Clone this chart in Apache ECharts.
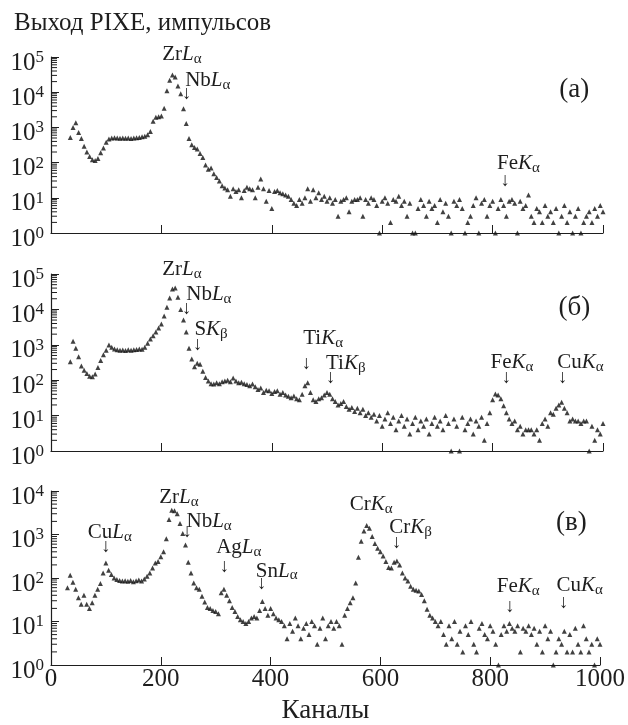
<!DOCTYPE html>
<html>
<head>
<meta charset="utf-8">
<script src="https://cdn.jsdelivr.net/npm/echarts@6/dist/echarts.min.js"></script>
<style>
html, body { margin: 0; padding: 0; background: #fff; }
#main { width: 628px; height: 725px; }
</style>
</head>
<body>
<div id="main"></div>
<script>
// channel numbers shared by all three spectra
var channels = [
  30, 35, 40, 45, 50, 55, 60, 65, 70, 75,
  80, 85, 90, 95, 100, 105, 110, 115, 120, 125,
  130, 135, 140, 145, 150, 155, 160, 165, 170, 175,
  180, 185, 190, 195, 200, 205, 210, 215, 220, 225,
  230, 235, 240, 245, 250, 255, 260, 265, 270, 275,
  280, 285, 290, 295, 300, 305, 310, 315, 320, 325,
  330, 335, 340, 345, 350, 355, 360, 365, 370, 375,
  380, 385, 390, 395, 400, 405, 410, 415, 420, 425,
  430, 435, 440, 445, 450, 455, 460, 465, 470, 475,
  480, 485, 490, 495, 500, 505, 510, 515, 520, 525,
  530, 535, 540, 545, 550, 555, 560, 565, 570, 575,
  580, 585, 590, 595, 600, 605, 610, 615, 620, 625,
  630, 635, 640, 645, 650, 655, 660, 665, 670, 675,
  680, 685, 690, 695, 700, 705, 710, 715, 720, 725,
  730, 735, 740, 745, 750, 755, 760, 765, 770, 775,
  780, 785, 790, 795, 800, 805, 810, 815, 820, 825,
  830, 835, 840, 845, 850, 855, 860, 865, 870, 875,
  880, 885, 890, 895, 900, 905, 910, 915, 920, 925,
  930, 935, 940, 945, 950, 955, 960, 965, 970, 975,
  980, 985, 990, 995, 1000
];

// (а)
var countsA = [
  null, 520, 1000, 1350, 720, 480, 290, 200, 150, 120,
  115, 130, 190, 260, 380, 470, 500, 510, 500, 490,
  500, 490, 500, 480, 500, 510, 520, 540, 560, 620,
  760, 1500, 1950, 2000, 2100, 3500, 11000, 22000, 31000, 27000,
  15000, 9000, 3400, 1300, 480, 320, 270, 245, 180, 140,
  85, 65, 70, 48, 38, 30, 22, 19, 17, 11,
  18, 15, 17, 10, 16, 20, 18, 17, 10, 20,
  34, 18, 8, 16, 5, 15, 16, 14, 13, 12,
  11, 9, 7, 6, 9, 7, 10, 18, 8, 17,
  10, 14, 9, 11, 8, 10, 7, 9, 3, 8,
  9, 10, 4, 8, 9, 9, 10, 3, 9, 7,
  10, 9, 6, 1, 8, 10, 7, 2, 9, 8,
  11, 6, 8, 3, 7, 1, 1, 5, 9, 6,
  3, 8, 5, 6, 2, 9, 4, 7, 3, 1,
  8, 6, 9, 5, 1, 2, 3, 6, 10, 1,
  7, 9, 3, 6, 8, 1, 5, 9, 6, 3,
  8, 9, 7, 1, 8, 5, 6, 12, 3, 2,
  5, 4, 2, 6, 3, 4, 2, 5, 1, 3,
  6, 2, 4, 1, 3, 5, 1, 2, 3, 4,
  2, 5, 3, 6, 4
];

// (б)
var countsB = [
  null, 330, 1250, 800, 460, 250, 190, 155, 130, 125,
  150, 230, 360, 520, 700, 980, 850, 760, 720, 700,
  710, 690, 720, 700, 730, 740, 760, 750, 850, 1100,
  1450, 1800, 2300, 3000, 3900, 6500, 11500, 21000, 38000, 40000,
  22000, 10000, 5000, 2300, 800, 400, 240, 300, 280, 180,
  120, 95, 80, 78, 85, 80, 90, 95, 100, 90,
  115, 95, 85, 88, 80, 75, 70, 78, 65, 55,
  60, 45, 52, 50, 42, 48, 50, 40, 45, 38,
  35, 32, 36, 30, 28, 40, 70, 85, 45, 28,
  25, 30, 32, 38, 45, 40, 30, 25, 20, 22,
  25, 18, 15, 17, 13, 16, 12, 15, 10, 12,
  9, 11, 7, 10, 5, 8, 12, 6, 9, 4,
  7, 10, 5, 8, 3, 6, 9, 4, 7, 5,
  8, 3, 6, 9, 5, 7, 4, 10, 6, 1,
  8, 5, 1, 9, 4, 6, 8, 3, 7, 5,
  9, 2, 6, 12, 28, 41, 38, 30, 19, 12,
  8, 6, 7, 4, 5, 3, 4, 4, 4, 3,
  4, 2, 6, 8, 5, 12, 11, 16, 20, 24,
  16, 12, 7, 8, 7, 7, 6, 7, 7, 1,
  5, 2, 4, 3, 6
];

// (в)
var countsC = [
  60, 115, 80, 55, 35, 25, 40, 25, 20, 27,
  40, 55, 75, 130, 220, 150, 120, 100, 92, 88,
  85, 87, 84, 88, 82, 86, 90, 85, 95, 110,
  130, 170, 220, 240, 310, 400, 800, 2200, 3600, 3500,
  3000, 1800, 1050, 570, 230, 130, 77, 60, 55, 38,
  28, 21, 20, 18, 17, 15, 46, 55, 40, 30,
  21, 17, 13, 11, 10, 9, 10, 12, 13, 12,
  18, 29, 20, 14, 20, 15, 12, 11, 10, 8,
  4, 9, 6, 12, 8, 4, 7, 9, 5, 10,
  8, 3, 7, 12, 4, 8, 10, 7, 10, 8,
  3, 14, 20, 27, 35, 77, 300, 700, 1200, 1620,
  1400, 900, 620, 480, 400, 320, 240, 175, 170, 230,
  245, 200, 130, 100, 85, 65, 55, 52, 50, 42,
  30, 19, 14, 12, 10, 8, 10, 5, 3, 8,
  4, 10, 3, 6, 2, 8, 5, 10, 3, 2,
  7, 9, 5, 4, 8, 6, 3, 1, 5, 8,
  6, 9, 7, 6, 8, 2, 7, 6, 8, 5,
  7, 3, 6, 2, 8, 4, 6, 1, 2, 4,
  3, 6, 2, 5, 2, 7, 3, 2, 8, 4,
  2, 3, 1, 4, 3
];

var yMaxA = 1e5, yMaxB = 1e5, yMaxC = 1e4;
var minorMultiples = [2, 3, 4, 5, 6, 7, 8, 9];

// line labels: text centre (ch, lg) and optional arrow centre (ach, alg), lg = log10(counts)
var notesA = [
  { t: ['Zr', 'L', 'α'], ch: 237, lg: 5.06 },
  { t: ['Nb', 'L', 'α'], ch: 284, lg: 4.34, ach: 246, alg: 3.95 },
  { t: ['Fe', 'K', 'α'], ch: 847, lg: 1.97, ach: 823, alg: 1.47 }
];
var notesB = [
  { t: ['Zr', 'L', 'α'], ch: 237, lg: 5.13 },
  { t: ['Nb', 'L', 'α'], ch: 286, lg: 4.43, ach: 246, alg: 4.01 },
  { t: ['S', 'K', 'β'], ch: 290, lg: 3.42, ach: 266, alg: 2.98 },
  { t: ['Ti', 'K', 'α'], ch: 493, lg: 3.17, ach: 463, alg: 2.47 },
  { t: ['Ti', 'K', 'β'], ch: 534, lg: 2.46, ach: 507, alg: 2.05 },
  { t: ['Fe', 'K', 'α'], ch: 835, lg: 2.49, ach: 825, alg: 2.05 },
  { t: ['Cu', 'K', 'α'], ch: 959, lg: 2.49, ach: 927, alg: 2.05 }
];
var notesC = [
  { t: ['Cu', 'L', 'α'], ch: 107, lg: 3.05, ach: 100, alg: 2.71 },
  { t: ['Zr', 'L', 'α'], ch: 233, lg: 3.84 },
  { t: ['Nb', 'L', 'α'], ch: 288, lg: 3.30, ach: 248, alg: 3.05 },
  { t: ['Ag', 'L', 'α'], ch: 342, lg: 2.70, ach: 316, alg: 2.25 },
  { t: ['Sn', 'L', 'α'], ch: 411, lg: 2.16, ach: 384, alg: 1.87 },
  { t: ['Cr', 'K', 'α'], ch: 583, lg: 3.68 },
  { t: ['Cr', 'K', 'β'], ch: 655, lg: 3.16, ach: 630, alg: 2.80 },
  { t: ['Fe', 'K', 'α'], ch: 851, lg: 1.80, ach: 836, alg: 1.34 },
  { t: ['Cu', 'K', 'α'], ch: 963, lg: 1.82, ach: 934, alg: 1.43 }
];
var panelTags = ['(а)', '(б)', '(в)'];
var panelTagPos = [[948, 4.06], [948, 4.03], [948, 3.27]];

var FONT = "'Liberation Serif', 'DejaVu Serif', serif";
var INK = '#1e1e1e';

var chart = echarts.init(document.getElementById('main'));

var grids = [
  { left: 51, width: 552, top: 57, height: 176 },
  { left: 51, width: 552, top: 274, height: 177 },
  { left: 51, width: 552, top: 491, height: 176 }
];
var yMax = [yMaxA, yMaxB, yMaxC];
var allCounts = [countsA, countsB, countsC];

function pairs(counts) {
  var out = [];
  for (var i = 0; i < channels.length; i++) {
    if (counts[i] != null) out.push([channels[i], counts[i]]);
  }
  return out;
}

function minorTickData(max) {
  var out = [];
  for (var d = 1; d < max; d *= 10) {
    minorMultiples.forEach(function (m) { out.push([0, m * d]); });
  }
  return out;
}

var xAxes = [], yAxes = [], series = [];
for (var g = 0; g < 3; g++) {
  xAxes.push({
    gridIndex: g, type: 'value', min: 0, max: 1000, interval: 200,
    axisLine: { show: true, onZero: false, lineStyle: { color: INK, width: 1.2 } },
    axisTick: { show: true, inside: true, length: 8, lineStyle: { color: INK, width: 1 } },
    axisLabel: {
      show: g === 2, margin: 2, color: INK, fontFamily: FONT, fontSize: 25,
      formatter: function (v) { return String(v); }
    },
    splitLine: { show: false },
    name: g === 2 ? 'Каналы' : '',
    nameLocation: 'middle', nameGap: 32,
    nameTextStyle: { color: INK, fontFamily: FONT, fontSize: 27 }
  });
  yAxes.push({
    gridIndex: g, type: 'log', logBase: 10, min: 1, max: yMax[g],
    axisLine: { show: true, lineStyle: { color: INK, width: 1.2 } },
    axisTick: { show: true, inside: true, length: 8, lineStyle: { color: INK, width: 1 } },
    axisLabel: {
      margin: 7, padding: [12, 0, 0, 0],
      formatter: function (v) { return '{b|10}{s|' + Math.round(Math.log10(v)) + '}'; },
      rich: {
        b: { fontFamily: FONT, fontSize: 25, lineHeight: 28, color: INK },
        s: { fontFamily: FONT, fontSize: 17, lineHeight: 15, verticalAlign: 'top', color: INK }
      }
    },
    splitLine: { show: false }
  });
  series.push({
    type: 'scatter', xAxisIndex: g, yAxisIndex: g,
    symbol: 'triangle', symbolSize: 5,
    itemStyle: { color: '#111' },
    data: pairs(allCounts[g]),
    silent: true, animation: false
  });
  series.push({
    type: 'custom', xAxisIndex: g, yAxisIndex: g, silent: true, animation: false,
    data: minorTickData(yMax[g]),
    renderItem: function (params, api) {
      var p = api.coord([api.value(0), api.value(1)]);
      return {
        type: 'line',
        shape: { x1: p[0], y1: p[1], x2: p[0] + 6, y2: p[1] },
        style: { stroke: INK, lineWidth: 1 }
      };
    }
  });
}

var option = {
  backgroundColor: '#fff',
  animation: false,
  title: {
    text: 'Выход PIXE, импульсов', left: 9, top: 6,
    textStyle: { fontFamily: FONT, fontSize: 25, fontWeight: 'normal', color: INK }
  },
  grid: grids,
  xAxis: xAxes,
  yAxis: yAxes,
  series: series
};
chart.setOption(option);

// labels placed through the grids' scales
var noteRich = {
  n: { fontFamily: FONT, fontSize: 21, lineHeight: 24, fill: INK },
  i: { fontFamily: FONT, fontSize: 21, fontStyle: 'italic', lineHeight: 24, fill: INK },
  s: { fontFamily: FONT, fontSize: 15, lineHeight: 15, verticalAlign: 'bottom', fill: INK }
};
var graphics = [];
[notesA, notesB, notesC].forEach(function (notes, g) {
  notes.forEach(function (n) {
    var p = chart.convertToPixel({ gridIndex: g }, [n.ch, Math.pow(10, n.lg)]);
    graphics.push({
      type: 'text', x: p[0], y: p[1], silent: true,
      style: {
        text: '{n|' + n.t[0] + '}{i|' + n.t[1] + '}{s|' + n.t[2] + '}',
        rich: noteRich, align: 'center', verticalAlign: 'middle'
      }
    });
    if (n.ach != null) {
      var a = chart.convertToPixel({ gridIndex: g }, [n.ach, Math.pow(10, n.alg)]);
      graphics.push({
        type: 'text', x: a[0], y: a[1], silent: true,
        style: { text: '↓', fontFamily: FONT, fontSize: 19, fill: INK, align: 'center', verticalAlign: 'middle' }
      });
    }
  });
  var tp = chart.convertToPixel({ gridIndex: g }, [panelTagPos[g][0], Math.pow(10, panelTagPos[g][1])]);
  graphics.push({
    type: 'text', x: tp[0], y: tp[1], silent: true,
    style: { text: panelTags[g], fontFamily: FONT, fontSize: 27, fill: INK, align: 'center', verticalAlign: 'middle' }
  });
});
chart.setOption({ graphic: graphics });
</script>
</body>
</html>
